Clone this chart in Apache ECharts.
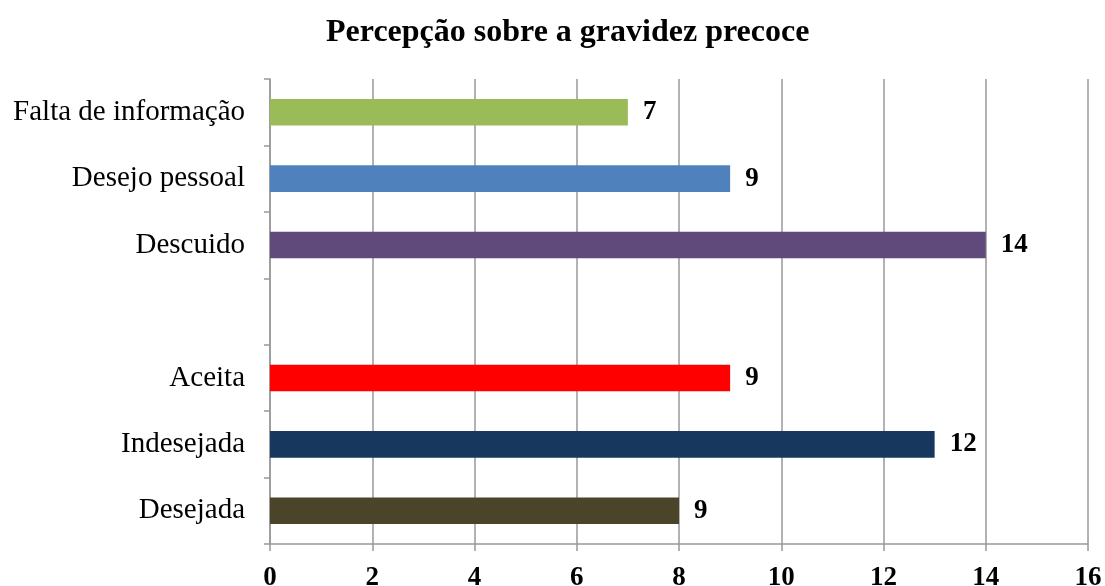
<!DOCTYPE html>
<html>
<head>
<meta charset="utf-8">
<script src="https://cdn.jsdelivr.net/npm/echarts@6/dist/echarts.min.js"></script>
<style>
  html, body { margin: 0; padding: 0; background: #fff; }
  #chart { width: 1105px; height: 586px; }
</style>
</head>
<body>
<div id="chart"></div>
<script>
// categories bottom to top, blank slot separates the two groups
const categories = ["Desejada", "Indesejada", "Aceita", "", "Descuido", "Desejo pessoal", "Falta de informação"];
// bar lengths as drawn
const barValues = [8, 13, 9, null, 14, 9, 7];
// numbers printed next to the bars
const labelTexts = ["9", "12", "9", "", "14", "9", "7"];
const barColors = ["#4A452A", "#17375E", "#FF0000", "#ffffff", "#604A7B", "#4F81BD", "#9BBB59"];
const xTicks = { min: 0, max: 16, interval: 2 };

const chart = echarts.init(document.getElementById("chart"));
const serif = "'Liberation Serif', 'Times New Roman', serif";

chart.setOption({
  animation: false,
  title: {
    text: "Percepção sobre a gravidez precoce",
    left: 321,
    top: 12,
    textStyle: { fontFamily: serif, fontSize: 32, fontWeight: "bold", color: "#000" }
  },
  grid: { left: 270, right: 17, top: 79, bottom: 42, outerBoundsMode: "none" },
  xAxis: {
    type: "value",
    min: xTicks.min,
    max: xTicks.max,
    interval: xTicks.interval,
    axisLine: { show: true, lineStyle: { color: "#999", width: 1.5 } },
    axisTick: { show: true, length: 7, lineStyle: { color: "#999", width: 1.5 } },
    splitLine: { show: true, lineStyle: { color: "#999", width: 1.5 } },
    axisLabel: { fontFamily: serif, fontSize: 27, fontWeight: "bold", color: "#000", margin: 21 }
  },
  yAxis: {
    type: "category",
    data: categories,
    axisLine: { show: true, lineStyle: { color: "#999", width: 1.5 } },
    axisTick: { show: true, length: 6, lineStyle: { color: "#999", width: 1.5 } },
    axisLabel: { fontFamily: serif, fontSize: 29, color: "#000", margin: 25 }
  },
  series: [{
    type: "bar",
    barWidth: "40%",
    data: barValues.map((v, i) => ({ value: v, itemStyle: { color: barColors[i] } })),
    label: {
      show: true,
      position: "right",
      distance: 15,
      fontFamily: serif,
      fontSize: 27,
      fontWeight: "bold",
      color: "#000",
      formatter: p => labelTexts[p.dataIndex]
    }
  }]
});
</script>
</body>
</html>
